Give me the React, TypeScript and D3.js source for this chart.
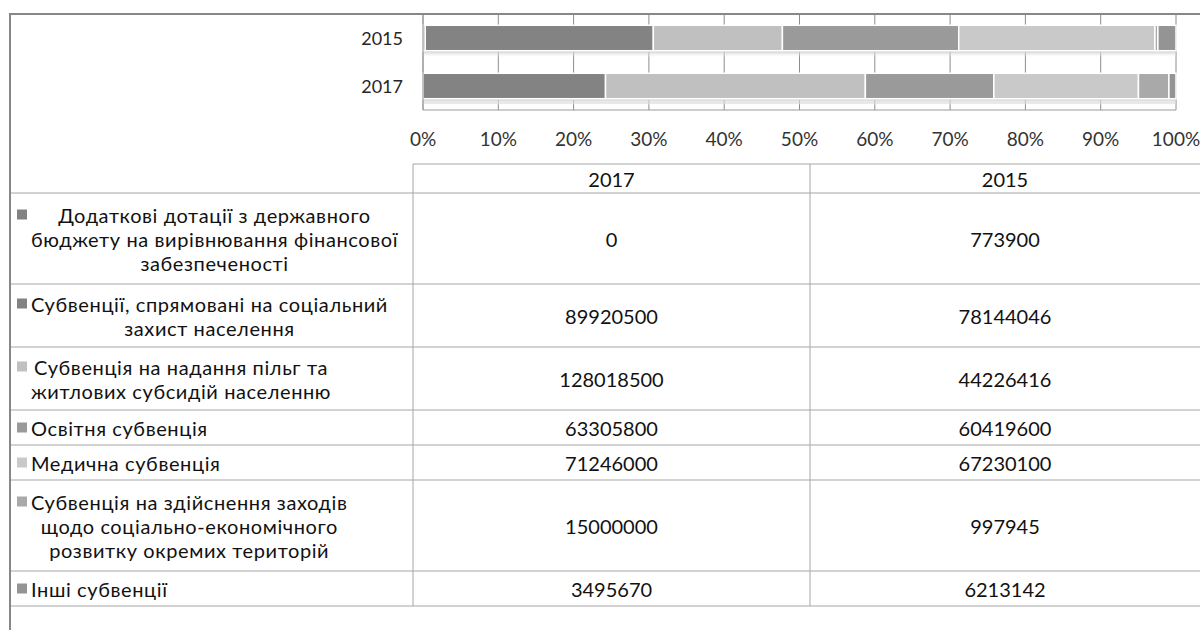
import { useEffect, useRef } from "react";
import * as d3 from "d3";

// table column order (left to right) and bar order (top to bottom)
const tableYears = ["2017", "2015"];
const barYears = ["2015", "2017"];

const seriesLabels = [
  ["Додаткові дотації з державного", "бюджету на вирівнювання фінансової", "забезпеченості"],
  ["Субвенції, спрямовані на соціальний", "захист населення"],
  ["Субвенція на надання пільг та", "житлових субсидій населенню"],
  ["Освітня субвенція"],
  ["Медична субвенція"],
  ["Субвенція на здійснення заходів", "щодо соціально-економічного", "розвитку окремих територій"],
  ["Інші субвенції"],
];

const values2017 = [0, 89920500, 128018500, 63305800, 71246000, 15000000, 3495670];
const values2015 = [773900, 78144046, 44226416, 60419600, 67230100, 997945, 6213142];

const seriesColors = ["#828282", "#838383", "#c0c0c0", "#9a9a9a", "#c9c9c9", "#a9a9a9", "#949494"];

const tickValues = [0, 0.1, 0.2, 0.3, 0.4, 0.5, 0.6, 0.7, 0.8, 0.9, 1];
const tickLabels = ["0%", "10%", "20%", "30%", "40%", "50%", "60%", "70%", "80%", "90%", "100%"];

export default function App() {
  const svgRef = useRef<SVGSVGElement>(null);

  useEffect(() => {
    if (!svgRef.current) return;
    const svg = d3.select(svgRef.current);
    svg.selectAll("*").remove();

    const W = 1200;
    const H = 630;
    const font = "Lato, 'Open Sans', sans-serif";
    const frame = { left: 10, top: 14 };
    const plot = { left: 423, right: 1176, top: 14, bottom: 110 };
    const valuesByYear: Record<string, number[]> = { "2017": values2017, "2015": values2015 };

    const x = d3.scaleLinear().domain([0, 1]).range([plot.left, plot.right]);
    const y = d3
      .scaleBand<string>()
      .domain(barYears)
      .range([plot.top, plot.bottom])
      .paddingInner(0.47)
      .paddingOuter(0.235);

    const rows = barYears.map((yr) => {
      const o: any = { year: yr };
      valuesByYear[yr].forEach((v, i) => (o[String(i)] = v));
      return o;
    });
    const keys = seriesLabels.map((_, i) => String(i));
    const layers = d3.stack<any>().keys(keys).offset(d3.stackOffsetExpand)(rows);

    const defs = svg.append("defs");
    const grad = defs
      .append("linearGradient")
      .attr("id", "barShadow")
      .attr("x1", 0)
      .attr("x2", 0)
      .attr("y1", 0)
      .attr("y2", 1);
    grad.append("stop").attr("offset", "0%").attr("stop-color", "#c4c4c4");
    grad.append("stop").attr("offset", "100%").attr("stop-color", "#ffffff").attr("stop-opacity", 0);

    // gridlines
    svg
      .append("g")
      .selectAll("line")
      .data(tickValues)
      .join("line")
      .attr("x1", (d) => x(d))
      .attr("x2", (d) => x(d))
      .attr("y1", plot.top)
      .attr("y2", plot.bottom)
      .attr("stroke", "#8c8c8c")
      .attr("stroke-width", 1);

    // floor lines
    svg
      .append("line")
      .attr("x1", plot.left)
      .attr("x2", plot.right)
      .attr("y1", plot.bottom - 7)
      .attr("y2", plot.bottom - 7)
      .attr("stroke", "#d2d2d2");
    svg
      .append("line")
      .attr("x1", plot.left)
      .attr("x2", plot.right)
      .attr("y1", plot.bottom)
      .attr("y2", plot.bottom)
      .attr("stroke", "#9a9a9a");

    // shadows beneath the bars
    svg
      .append("g")
      .selectAll("rect")
      .data(barYears)
      .join("rect")
      .attr("x", plot.left)
      .attr("y", (d) => (y(d) as number) + y.bandwidth())
      .attr("width", plot.right - plot.left)
      .attr("height", 7)
      .attr("fill", "url(#barShadow)");

    // stacked bars
    layers.forEach((layer, i) => {
      svg
        .append("g")
        .selectAll("rect")
        .data(layer)
        .join("rect")
        .attr("x", (d) => x(d[0]))
        .attr("width", (d) => Math.max(0, x(d[1]) - x(d[0])))
        .attr("y", (d) => y(d.data.year) as number)
        .attr("height", y.bandwidth())
        .attr("fill", seriesColors[i])
        .attr("stroke", "#ffffff")
        .attr("stroke-width", 1.5)
        .attr("display", (d) => (d[1] - d[0] > 0 ? null : "none"));
    });

    // left axis line
    svg
      .append("line")
      .attr("x1", plot.left)
      .attr("x2", plot.left)
      .attr("y1", plot.top)
      .attr("y2", plot.bottom)
      .attr("stroke", "#9a9a9a");

    // category labels
    svg
      .append("g")
      .selectAll("text")
      .data(barYears)
      .join("text")
      .attr("x", plot.left - 20)
      .attr("y", (d) => (y(d) as number) + y.bandwidth() / 2)
      .attr("text-anchor", "end")
      .attr("dominant-baseline", "central")
      .attr("font-family", font)
      .attr("font-size", 18)
      .attr("fill", "#262626")
      .text((d) => d);

    // tick labels
    svg
      .append("g")
      .selectAll("text")
      .data(tickValues)
      .join("text")
      .attr("x", (d) => x(d))
      .attr("y", plot.bottom + 28)
      .attr("text-anchor", "middle")
      .attr("dominant-baseline", "central")
      .attr("font-family", font)
      .attr("font-size", 19)
      .attr("fill", "#333333")
      .text((_, i) => tickLabels[i]);

    // ---- data table ----
    const tbl = {
      labelLeft: frame.left,
      col1: 413,
      col2: 810,
      right: W,
      headerTop: 164,
      headerH: 29,
      lineH: 24,
    };
    const colCenters = [(tbl.col1 + tbl.col2) / 2, (tbl.col2 + tbl.right) / 2];
    const lineStroke = "#a6a6a6";
    const labelSize = 20;
    const numberSize = 20;

    let cursor = tbl.headerTop + tbl.headerH;
    const rowTops: number[] = [];
    const rowHeights: number[] = [];
    seriesLabels.forEach((lines) => {
      rowTops.push(cursor);
      const h = 28 * lines.length + 7;
      rowHeights.push(h);
      cursor += h;
    });
    const tableBottom = cursor;

    const g = svg.append("g");

    // header top line
    g.append("line")
      .attr("x1", tbl.col1)
      .attr("x2", tbl.right)
      .attr("y1", tbl.headerTop)
      .attr("y2", tbl.headerTop)
      .attr("stroke", lineStroke);

    // row lines
    const hLines = [tbl.headerTop + tbl.headerH, ...rowTops.map((t, i) => t + rowHeights[i])];
    g.selectAll("line.row")
      .data(hLines)
      .join("line")
      .attr("class", "row")
      .attr("x1", tbl.labelLeft)
      .attr("x2", tbl.right)
      .attr("y1", (d) => d)
      .attr("y2", (d) => d)
      .attr("stroke", lineStroke);

    // column lines
    g.selectAll("line.col")
      .data([tbl.col1, tbl.col2])
      .join("line")
      .attr("class", "col")
      .attr("x1", (d) => d)
      .attr("x2", (d) => d)
      .attr("y1", tbl.headerTop)
      .attr("y2", tableBottom)
      .attr("stroke", lineStroke);

    // header text
    g.selectAll("text.head")
      .data(tableYears)
      .join("text")
      .attr("class", "head")
      .attr("x", (_, j) => colCenters[j])
      .attr("y", tbl.headerTop + tbl.headerH / 2)
      .attr("text-anchor", "middle")
      .attr("dominant-baseline", "central")
      .attr("font-family", font)
      .attr("font-size", numberSize)
      .attr("fill", "#111")
      .text((d) => d);

    // row labels with legend keys
    const keyLeft = 17;
    const keySize = 10;
    const blockLeft = 31;
    seriesLabels.forEach((lines, i) => {
      const center = rowTops[i] + rowHeights[i] / 2;
      const firstY = center - ((lines.length - 1) * tbl.lineH) / 2;
      const texts = g
        .selectAll(`text.lbl${i}`)
        .data(lines)
        .join("text")
        .attr("class", `lbl${i}`)
        .attr("y", (_, k) => firstY + k * tbl.lineH)
        .attr("text-anchor", "middle")
        .attr("dominant-baseline", "central")
        .attr("font-family", font)
        .attr("font-size", labelSize)
        .attr("letter-spacing", 0.6)
        .attr("fill", "#111")
        .text((d) => d);
      let maxW = 0;
      texts.each(function () {
        maxW = Math.max(maxW, (this as SVGTextElement).getComputedTextLength());
      });
      texts.attr("x", blockLeft + maxW / 2);

      g.append("rect")
        .attr("x", keyLeft)
        .attr("y", firstY - keySize / 2)
        .attr("width", keySize)
        .attr("height", keySize)
        .attr("fill", seriesColors[i]);

      // values
      tableYears.forEach((yr, j) => {
        g.append("text")
          .attr("x", colCenters[j])
          .attr("y", center)
          .attr("text-anchor", "middle")
          .attr("dominant-baseline", "central")
          .attr("font-family", font)
          .attr("font-size", numberSize)
          .attr("fill", "#111")
          .text(String(valuesByYear[yr][i]));
      });
    });

    // outer chart frame (top and left edges visible)
    svg
      .append("path")
      .attr("d", `M${W},${frame.top}H${frame.left}V${H}`)
      .attr("fill", "none")
      .attr("stroke", "#878787")
      .attr("stroke-width", 2);
  }, []);

  return (
    <svg
      ref={svgRef}
      width={1200}
      height={630}
      style={{ position: "absolute", left: 0, top: 0, display: "block", background: "#fff" }}
    ></svg>
  );
}
